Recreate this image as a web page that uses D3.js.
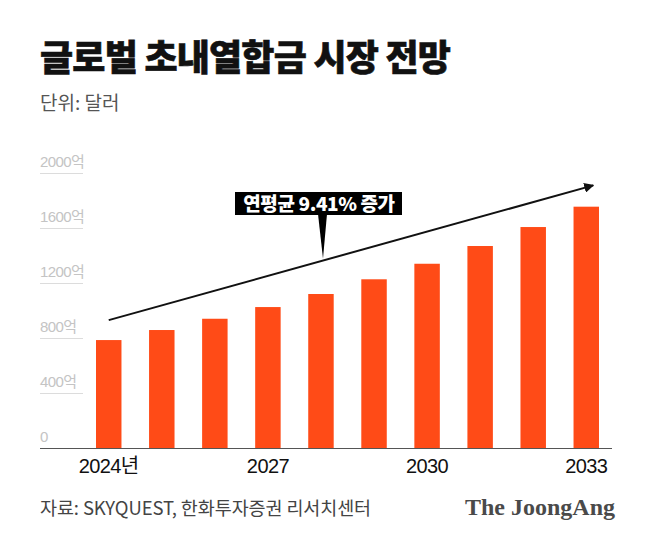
<!DOCTYPE html>
<html><head><meta charset="utf-8">
<script src="https://cdn.jsdelivr.net/npm/d3@7"></script>
<style>
body{margin:0;background:#fff;}
svg{display:block;}
</style></head>
<body>
<svg id="c" width="658" height="548"></svg>
<script>
const years = ["2024","2025","2026","2027","2028","2029","2030","2031","2032","2033"];
const values = [785, 858, 940, 1025, 1120, 1227, 1340, 1469, 1607, 1755];
const yTicks = [0, 400, 800, 1200, 1600, 2000];
const xTickYears = ["2024","2027","2030","2033"];
const title = "글로벌 초내열합금 시장 전망";
const subtitle = "단위: 달러";
const source = "자료: SKYQUEST, 한화투자증권 리서치센터";
const brand = "The JoongAng";
const annotation = "연평균 9.41% 증가";
const trendStart = 930, trendEnd = 1910;

const svg = d3.select("#c");
const KR = "'Noto Sans CJK KR','Noto Sans',sans-serif";
const LAT = "'Liberation Sans','Noto Sans CJK KR',sans-serif";

const x = d3.scaleBand().domain(years).range([96, 599]).paddingInner(0.52).paddingOuter(0);
const y = d3.scaleLinear().domain([0, 2000]).range([448, 173]);

// Title
svg.append("text").attr("x", 40).attr("y", 71).text(title)
  .attr("font-family", KR).attr("font-weight", 900).attr("font-size", 36)
  .attr("letter-spacing", -0.8).attr("fill", "#111")
  .attr("stroke", "#111").attr("stroke-width", 0.6);
svg.append("text").attr("x", 40).attr("y", 110).text(subtitle)
  .attr("font-family", KR).attr("font-size", 19).attr("fill", "#555");

// Y axis (labels with underline)
const yAxis = d3.axisRight(y).tickValues(yTicks).tickSize(43)
  .tickFormat(d => d === 0 ? "0" : d + "억");
const gy = svg.append("g").attr("transform", "translate(40,0)").call(yAxis);
gy.select(".domain").remove();
gy.selectAll(".tick line").attr("stroke", "#dcdcdc").attr("stroke-width", 1)
  .filter(d => d === 0).remove();
gy.selectAll(".tick text").attr("x", 0).attr("dy", -7).attr("text-anchor", "start")
  .attr("font-family", LAT).attr("font-size", 15).attr("letter-spacing", -0.6).attr("fill", "#c4c4c4");

// Bars
svg.append("g").selectAll("rect").data(years).join("rect")
  .attr("x", d => x(d)).attr("width", x.bandwidth())
  .attr("y", (d, i) => y(values[i])).attr("height", (d, i) => y(0) - y(values[i]))
  .attr("fill", "#ff4b17");

// Baseline
svg.append("line").attr("x1", 40).attr("x2", 612).attr("y1", y(0) + 0.5).attr("y2", y(0) + 0.5)
  .attr("stroke", "#555").attr("stroke-width", 1.2);

// X axis
const xAxis = d3.axisBottom(x).tickValues(xTickYears).tickSize(0)
  .tickFormat(d => d === "2024" ? d + "년" : d);
const gx = svg.append("g").attr("transform", `translate(0,${y(0)})`).call(xAxis);
gx.select(".domain").remove();
gx.selectAll(".tick text").attr("dy", 0).attr("y", 25)
  .attr("font-family", LAT).attr("font-size", 20).attr("letter-spacing", -0.6).attr("fill", "#111");

// Trend arrow
const defs = svg.append("defs");
defs.append("marker").attr("id", "ah").attr("viewBox", "0 0 10 10").attr("refX", 9).attr("refY", 5)
  .attr("markerWidth", 5).attr("markerHeight", 5).attr("orient", "auto")
  .attr("markerUnits", "strokeWidth")
  .append("path").attr("d", "M0,0 L10,5 L0,10 Z").attr("fill", "#111");
const ax1 = x("2024") + x.bandwidth() / 2, ay1 = y(trendStart);
const ax2 = x("2033") + x.bandwidth() / 2 + 7, ay2 = y(trendEnd);
svg.append("line").attr("x1", ax1).attr("y1", ay1).attr("x2", ax2).attr("y2", ay2)
  .attr("stroke", "#111").attr("stroke-width", 2).attr("marker-end", "url(#ah)");

// Annotation box
const tipX = 323, tipY = ay1 + (ay2 - ay1) * (tipX - ax1) / (ax2 - ax1) - 2;
const ann = svg.append("g");
ann.append("path").attr("d", `M${tipX - 5},214 L${tipX + 4},214 L${tipX},${tipY} Z`).attr("fill", "#000");
ann.append("rect").attr("x", 235).attr("y", 192).attr("width", 167).attr("height", 23).attr("fill", "#000");
ann.append("text").attr("x", 319).attr("y", 210.5).attr("text-anchor", "middle").text(annotation)
  .attr("font-family", KR).attr("font-weight", 900).attr("font-size", 19).attr("letter-spacing", -0.4)
  .attr("fill", "#fff");

// Footer
svg.append("text").attr("x", 40).attr("y", 515).text(source)
  .attr("font-family", KR).attr("font-size", 18.5).attr("letter-spacing", -0.1).attr("fill", "#444");
svg.append("text").attr("x", 465).attr("y", 515).text(brand)
  .attr("font-family", "'Liberation Serif','DejaVu Serif',serif").attr("font-weight", 700)
  .attr("font-size", 24).attr("textLength", 150).attr("lengthAdjust", "spacingAndGlyphs").attr("fill", "#4a4a4a");
</script>
</body></html>
